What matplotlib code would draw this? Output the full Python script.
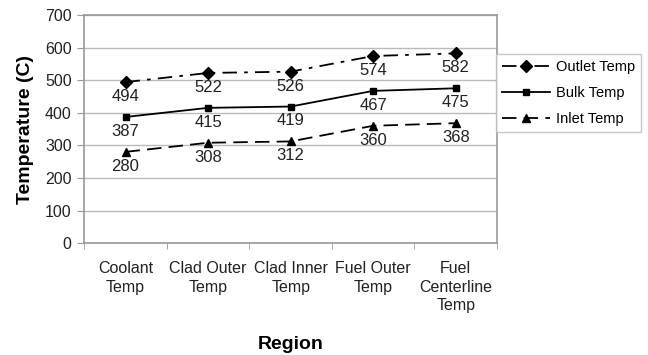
import matplotlib.pyplot as plt

plt.rcParams['font.family'] = ['Liberation Sans', 'DejaVu Sans']

# dados
regioes = ["Coolant\nTemp", "Clad Outer\nTemp", "Clad Inner\nTemp", "Fuel Outer\nTemp", "Fuel\nCenterline\nTemp"]
outlet = [494, 522, 526, 574, 582]
bulk = [387, 415, 419, 467, 475]
inlet = [280, 308, 312, 360, 368]

fig = plt.figure(figsize=(6.48, 3.55), dpi=100)
ax = fig.add_axes([0.130, 0.315, 0.637, 0.643])

x = list(range(len(regioes)))
ax.plot(x, outlet, color='black', linestyle=(0, (8, 4, 2, 4)), marker='D', markersize=6.5, lw=1.3, label='Outlet Temp')
ax.plot(x, bulk, color='black', linestyle='-', marker='s', markersize=5, lw=1.3, label='Bulk Temp')
ax.plot(x, inlet, color='black', linestyle=(0, (8, 4)), marker='^', markersize=6, lw=1.3, label='Inlet Temp')

# rótulos dos valores
for serie in [outlet, bulk, inlet]:
    for xi, v in zip(x, serie):
        ax.annotate(f'{v}', (xi, v), xytext=(0, -5), textcoords='offset points',
                    ha='center', va='top', fontsize=12, color='#222222')

ax.set_xlim(-0.5, 4.5)
ax.set_ylim(0, 700)
ax.set_yticks(range(0, 701, 100))
ax.set_xticks(x)
ax.set_xticklabels(regioes, fontsize=11.5, linespacing=1.3, color='#222222')
ax.set_xticks([i + 0.5 for i in range(-1, 5)], minor=True)
ax.tick_params(axis='x', which='major', length=0, pad=13)
ax.tick_params(axis='x', which='minor', length=4, color='#999999')
ax.tick_params(axis='y', length=5, pad=4, color='#999999', labelsize=11.5, labelcolor='#222222')
ax.grid(axis='y', color='#bbbbbb', lw=1)
ax.set_axisbelow(True)
for s in ax.spines.values():
    s.set_color('#999999')
    s.set_linewidth(1.2)

ax.set_ylabel('Temperature (C)', fontsize=14, fontweight='bold', labelpad=8)
ax.set_xlabel('Region', fontsize=14, fontweight='bold', labelpad=16)

leg = ax.legend(loc='upper left', bbox_to_anchor=(0.997, 0.83), fontsize=10.5, frameon=True,
                fancybox=False, edgecolor='#bbbbbb', handlelength=3.3, borderpad=0.45,
                labelspacing=0.8, handletextpad=0.35, borderaxespad=0)

plt.savefig('out.png')
